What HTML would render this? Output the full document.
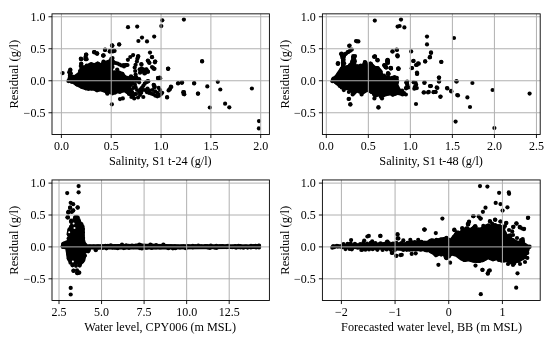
<!DOCTYPE html><html><head><meta charset="utf-8"><style>html,body{margin:0;padding:0;background:#fff;overflow:hidden}svg{display:block;will-change:transform;filter:blur(0.35px)}</style></head><body><svg width="550" height="343" viewBox="0 0 550 343"><rect width="550" height="343" fill="#fff"/><g fill="#000"><path d="M67.1 80.5 L67.7 78.0 L68.3 74.2 L69.6 70.3 L71.5 71.0 L72.8 75.5 L74.7 74.8 L77.9 72.3 L79.9 69.1 L80.5 66.5 L82.4 66.6 L85.0 65.0 L88.2 64.0 L91.3 62.4 L94.5 62.9 L97.6 61.3 L100.8 62.9 L103.4 59.8 L105.5 60.8 L108.1 59.8 L110.7 58.7 L112.3 57.6 L113.0 62.0 L113.0 70.5 L118.0 71.5 L122.0 72.0 L124.5 74.0 L126.0 76.5 L130.0 77.5 L131.0 82.0 L131.0 94.0 L129.2 95.5 L124.0 92.3 L120.3 93.6 L116.4 93.6 L112.6 95.5 L108.7 93.5 L106.2 95.0 L104.9 93.0 L101.0 91.4 L97.2 92.0 L93.3 90.8 L89.5 90.0 L85.6 90.3 L81.8 89.0 L76.7 86.6 L72.8 84.0 L70.3 83.2 L67.1 81.2Z"/><circle cx="128.0" cy="27.2" r="2.1"/><circle cx="137.2" cy="26.6" r="2.1"/><circle cx="142.0" cy="37.6" r="2.1"/><circle cx="138.4" cy="41.0" r="2.1"/><circle cx="147.0" cy="41.4" r="2.1"/><circle cx="154.2" cy="36.6" r="2.1"/><circle cx="119.2" cy="44.4" r="2.1"/><circle cx="112.0" cy="45.4" r="2.1"/><circle cx="110.0" cy="51.0" r="2.1"/><circle cx="114.2" cy="50.6" r="2.1"/><circle cx="105.0" cy="50.0" r="2.1"/><circle cx="94.0" cy="52.0" r="2.1"/><circle cx="97.0" cy="53.4" r="2.1"/><circle cx="103.6" cy="55.4" r="2.1"/><circle cx="86.0" cy="55.0" r="2.1"/><circle cx="85.6" cy="58.4" r="2.1"/><circle cx="81.0" cy="59.0" r="2.1"/><circle cx="150.0" cy="52.6" r="2.1"/><circle cx="152.0" cy="57.0" r="2.1"/><circle cx="155.2" cy="61.6" r="2.1"/><circle cx="138.0" cy="57.0" r="2.1"/><circle cx="162.3" cy="20.3" r="2.1"/><circle cx="161.3" cy="26.1" r="2.1"/><circle cx="183.9" cy="19.6" r="2.1"/><circle cx="202.1" cy="61.5" r="2.1"/><circle cx="168.2" cy="68.8" r="2.1"/><circle cx="168.2" cy="68.6" r="2.1"/><circle cx="158.1" cy="78.2" r="2.1"/><circle cx="160.2" cy="78.2" r="2.1"/><circle cx="178.0" cy="83.5" r="2.1"/><circle cx="181.8" cy="82.8" r="2.1"/><circle cx="194.1" cy="83.5" r="2.1"/><circle cx="207.3" cy="86.4" r="2.1"/><circle cx="217.8" cy="81.8" r="2.1"/><circle cx="220.3" cy="89.5" r="2.1"/><circle cx="251.9" cy="88.5" r="2.1"/><circle cx="171.3" cy="87.0" r="2.1"/><circle cx="169.6" cy="89.5" r="2.1"/><circle cx="183.2" cy="92.2" r="2.1"/><circle cx="184.3" cy="94.3" r="2.1"/><circle cx="197.9" cy="93.7" r="2.1"/><circle cx="167.1" cy="97.1" r="2.1"/><circle cx="209.8" cy="107.5" r="2.1"/><circle cx="225.1" cy="103.7" r="2.1"/><circle cx="229.3" cy="107.3" r="2.1"/><circle cx="259.0" cy="121.1" r="2.1"/><circle cx="258.9" cy="128.4" r="2.1"/><circle cx="119.2" cy="44.5" r="2.1"/><circle cx="112.3" cy="45.8" r="2.1"/><circle cx="114.5" cy="50.9" r="2.1"/><circle cx="110.0" cy="51.5" r="2.1"/><circle cx="105.1" cy="49.6" r="2.1"/><circle cx="94.4" cy="52.2" r="2.1"/><circle cx="97.2" cy="53.5" r="2.1"/><circle cx="103.3" cy="55.6" r="2.1"/><circle cx="86.3" cy="54.7" r="2.1"/><circle cx="85.6" cy="59.2" r="2.1"/><circle cx="81.2" cy="59.2" r="2.1"/><circle cx="81.2" cy="63.7" r="2.1"/><circle cx="70.3" cy="70.1" r="2.1"/><circle cx="62.6" cy="73.1" r="2.1"/><circle cx="126.3" cy="65.2" r="2.1"/><circle cx="124.0" cy="66.4" r="2.1"/><circle cx="141.5" cy="64.7" r="2.1"/><circle cx="139.7" cy="69.3" r="2.1"/><circle cx="141.5" cy="68.7" r="2.1"/><circle cx="142.7" cy="71.1" r="2.1"/><circle cx="140.9" cy="71.7" r="2.1"/><circle cx="144.4" cy="69.9" r="2.1"/><circle cx="146.2" cy="69.3" r="2.1"/><circle cx="147.9" cy="71.7" r="2.1"/><circle cx="144.4" cy="73.4" r="2.1"/><circle cx="149.1" cy="62.3" r="2.1"/><circle cx="147.9" cy="60.6" r="2.1"/><circle cx="154.9" cy="62.3" r="2.1"/><circle cx="152.0" cy="67.0" r="2.1"/><circle cx="153.7" cy="68.7" r="2.1"/><circle cx="159.0" cy="78.1" r="2.1"/><circle cx="129.8" cy="77.5" r="2.1"/><circle cx="132.2" cy="77.5" r="2.1"/><circle cx="134.5" cy="78.7" r="2.1"/><circle cx="136.8" cy="78.7" r="2.1"/><circle cx="139.2" cy="79.2" r="2.1"/><circle cx="124.0" cy="76.3" r="2.1"/><circle cx="126.3" cy="77.5" r="2.1"/><circle cx="131.0" cy="76.3" r="2.1"/><circle cx="152.0" cy="57.2" r="2.1"/><circle cx="147.9" cy="60.8" r="2.1"/><circle cx="149.4" cy="63.0" r="2.1"/><circle cx="155.2" cy="61.6" r="2.1"/><circle cx="153.0" cy="67.8" r="2.1"/><circle cx="154.5" cy="68.8" r="2.1"/><circle cx="146.5" cy="69.6" r="2.1"/><circle cx="147.9" cy="71.7" r="2.1"/><circle cx="145.0" cy="73.2" r="2.1"/><circle cx="168.0" cy="68.8" r="2.1"/><circle cx="202.1" cy="61.1" r="2.1"/><circle cx="158.1" cy="78.0" r="2.1"/><circle cx="159.6" cy="77.6" r="2.1"/><circle cx="146.5" cy="81.9" r="2.1"/><circle cx="147.9" cy="81.2" r="2.1"/><circle cx="153.7" cy="84.8" r="2.1"/><circle cx="154.5" cy="86.3" r="2.1"/><circle cx="178.2" cy="83.1" r="2.1"/><circle cx="182.1" cy="82.4" r="2.1"/><circle cx="194.2" cy="83.1" r="2.1"/><circle cx="170.9" cy="86.7" r="2.1"/><circle cx="169.7" cy="89.2" r="2.1"/><circle cx="168.6" cy="90.4" r="2.1"/><circle cx="184.0" cy="92.1" r="2.1"/><circle cx="183.6" cy="94.0" r="2.1"/><circle cx="198.1" cy="93.6" r="2.1"/><circle cx="167.1" cy="97.5" r="2.1"/><circle cx="131.4" cy="77.4" r="2.1"/><circle cx="134.2" cy="78.1" r="2.1"/><circle cx="136.3" cy="77.4" r="2.1"/><circle cx="132.8" cy="83.0" r="2.1"/><circle cx="134.9" cy="84.4" r="2.1"/><circle cx="133.5" cy="87.9" r="2.1"/><circle cx="132.1" cy="92.1" r="2.1"/><circle cx="134.9" cy="94.2" r="2.1"/><circle cx="131.4" cy="97.0" r="2.1"/><circle cx="134.2" cy="98.4" r="2.1"/><circle cx="137.0" cy="90.0" r="2.1"/><circle cx="135.6" cy="87.2" r="2.1"/><circle cx="130.7" cy="94.2" r="2.1"/><circle cx="131.0" cy="80.0" r="2.1"/><circle cx="131.0" cy="85.0" r="2.1"/><circle cx="131.0" cy="90.0" r="2.1"/><circle cx="133.0" cy="80.0" r="2.1"/><circle cx="136.0" cy="81.0" r="2.1"/><circle cx="136.0" cy="94.0" r="2.1"/><circle cx="133.0" cy="96.0" r="2.1"/><circle cx="139.1" cy="82.3" r="2.1"/><circle cx="139.1" cy="92.1" r="2.1"/><circle cx="140.5" cy="89.3" r="2.1"/><circle cx="141.9" cy="87.9" r="2.1"/><circle cx="143.3" cy="85.8" r="2.1"/><circle cx="144.7" cy="83.7" r="2.1"/><circle cx="146.5" cy="82.0" r="2.1"/><circle cx="148.2" cy="81.3" r="2.1"/><circle cx="142.6" cy="90.0" r="2.1"/><circle cx="141.2" cy="92.8" r="2.1"/><circle cx="143.3" cy="97.0" r="2.1"/><circle cx="140.0" cy="95.0" r="2.1"/><circle cx="138.0" cy="97.5" r="2.1"/><circle cx="153.8" cy="85.1" r="2.1"/><circle cx="154.5" cy="87.2" r="2.1"/><circle cx="158.7" cy="87.9" r="2.1"/><circle cx="160.1" cy="90.0" r="2.1"/><circle cx="162.2" cy="92.8" r="2.1"/><circle cx="147.5" cy="88.6" r="2.1"/><circle cx="146.8" cy="92.1" r="2.1"/><circle cx="148.9" cy="92.8" r="2.1"/><circle cx="151.0" cy="93.5" r="2.1"/><circle cx="153.1" cy="94.2" r="2.1"/><circle cx="155.2" cy="95.6" r="2.1"/><circle cx="157.3" cy="96.3" r="2.1"/><circle cx="159.4" cy="95.6" r="2.1"/><circle cx="160.8" cy="94.2" r="2.1"/><circle cx="152.4" cy="90.0" r="2.1"/><circle cx="155.2" cy="91.4" r="2.1"/><circle cx="157.3" cy="92.8" r="2.1"/><circle cx="158.0" cy="78.1" r="2.1"/><circle cx="145.0" cy="90.0" r="2.1"/><circle cx="149.5" cy="90.5" r="2.1"/><circle cx="111.9" cy="104.3" r="2.1"/><circle cx="120.0" cy="99.1" r="2.1"/><circle cx="122.8" cy="98.4" r="2.1"/><circle cx="116.0" cy="72.7" r="2.1"/><circle cx="119.2" cy="72.7" r="2.1"/><circle cx="121.2" cy="75.2" r="2.1"/><circle cx="122.4" cy="73.9" r="2.1"/><circle cx="113.5" cy="62.1" r="2.1"/><circle cx="115.5" cy="63.0" r="2.1"/><circle cx="117.5" cy="63.5" r="2.1"/><circle cx="119.5" cy="64.5" r="2.1"/><circle cx="121.5" cy="65.5" r="2.1"/><circle cx="123.5" cy="65.0" r="2.1"/><circle cx="125.5" cy="65.0" r="2.1"/><circle cx="127.5" cy="65.0" r="2.1"/><circle cx="112.5" cy="58.0" r="2.1"/><circle cx="112.5" cy="61.0" r="2.1"/><circle cx="112.5" cy="64.0" r="2.1"/><circle cx="112.5" cy="67.0" r="2.1"/><circle cx="80.8" cy="58.7" r="2.1"/><circle cx="86.1" cy="54.5" r="2.1"/><circle cx="85.5" cy="57.1" r="2.1"/><circle cx="86.6" cy="59.2" r="2.1"/><circle cx="94.5" cy="52.4" r="2.1"/><circle cx="97.1" cy="53.7" r="2.1"/><circle cx="103.1" cy="55.6" r="2.1"/><circle cx="105.0" cy="49.8" r="2.1"/><circle cx="109.7" cy="51.4" r="2.1"/><circle cx="112.3" cy="45.6" r="2.1"/><circle cx="112.8" cy="51.4" r="2.1"/><circle cx="81.3" cy="64.0" r="2.1"/><circle cx="80.8" cy="66.1" r="2.1"/><circle cx="70.3" cy="69.7" r="2.1"/><circle cx="114.4" cy="72.4" r="2.1"/><circle cx="118.1" cy="72.4" r="2.1"/><circle cx="120.9" cy="73.3" r="2.1"/><circle cx="122.3" cy="74.7" r="2.1"/><circle cx="117.2" cy="69.6" r="2.1"/><circle cx="127.9" cy="59.8" r="2.1"/><circle cx="130.3" cy="57.0" r="2.1"/><circle cx="133.1" cy="55.1" r="2.1"/><circle cx="138.2" cy="56.5" r="2.1"/><circle cx="138.2" cy="56.1" r="2.1"/><circle cx="137.4" cy="58.7" r="2.1"/><circle cx="136.9" cy="61.4" r="2.1"/><circle cx="135.6" cy="64.8" r="2.1"/><circle cx="134.7" cy="67.5" r="2.1"/><circle cx="135.2" cy="71.0" r="2.1"/><circle cx="135.6" cy="74.5" r="2.1"/><circle cx="141.3" cy="64.0" r="2.1"/><circle cx="140.8" cy="70.1" r="2.1"/><circle cx="142.6" cy="69.2" r="2.1"/><circle cx="144.3" cy="71.8" r="2.1"/><circle cx="140.0" cy="72.7" r="2.1"/><circle cx="69.3" cy="80.1" r="2.1"/><circle cx="70.0" cy="75.5" r="2.1"/><circle cx="70.8" cy="73.3" r="2.1"/><circle cx="69.2" cy="72.2" r="2.1"/><circle cx="69.9" cy="73.9" r="2.1"/><circle cx="73.5" cy="76.9" r="2.1"/><circle cx="76.4" cy="76.5" r="2.1"/><circle cx="80.0" cy="71.1" r="2.1"/><circle cx="82.9" cy="67.7" r="2.1"/><circle cx="81.4" cy="68.6" r="2.1"/><circle cx="83.3" cy="67.4" r="2.1"/><circle cx="86.7" cy="65.7" r="2.1"/><circle cx="89.4" cy="65.1" r="2.1"/><circle cx="91.1" cy="64.2" r="2.1"/><circle cx="96.7" cy="64.5" r="2.1"/><circle cx="98.0" cy="63.9" r="2.1"/><circle cx="103.5" cy="63.0" r="2.1"/><circle cx="103.5" cy="61.6" r="2.1"/><circle cx="108.5" cy="62.5" r="2.1"/><circle cx="110.7" cy="61.1" r="2.1"/><circle cx="111.9" cy="59.6" r="2.1"/><circle cx="111.3" cy="58.8" r="2.1"/><circle cx="111.3" cy="64.6" r="2.1"/><circle cx="111.3" cy="69.1" r="2.1"/><circle cx="116.4" cy="73.7" r="2.1"/><circle cx="117.8" cy="72.9" r="2.1"/><circle cx="122.7" cy="74.9" r="2.1"/><circle cx="124.2" cy="76.9" r="2.1"/><circle cx="125.7" cy="78.6" r="2.1"/><circle cx="129.1" cy="80.6" r="2.1"/><circle cx="129.4" cy="82.2" r="2.1"/><circle cx="128.7" cy="87.3" r="2.1"/><circle cx="129.5" cy="88.3" r="2.1"/><circle cx="129.8" cy="91.2" r="2.1"/><circle cx="129.0" cy="93.9" r="2.1"/><circle cx="129.0" cy="93.2" r="2.1"/><circle cx="127.4" cy="91.7" r="2.1"/><circle cx="122.9" cy="90.4" r="2.1"/><circle cx="119.9" cy="91.8" r="2.1"/><circle cx="115.1" cy="92.6" r="2.1"/><circle cx="110.7" cy="91.8" r="2.1"/><circle cx="106.8" cy="91.7" r="2.1"/><circle cx="107.4" cy="93.7" r="2.1"/><circle cx="103.0" cy="89.9" r="2.1"/><circle cx="100.3" cy="88.8" r="2.1"/><circle cx="97.0" cy="90.3" r="2.1"/><circle cx="91.3" cy="88.7" r="2.1"/><circle cx="88.5" cy="88.9" r="2.1"/><circle cx="86.0" cy="88.3" r="2.1"/><circle cx="81.7" cy="86.7" r="2.1"/><circle cx="76.6" cy="84.3" r="2.1"/><circle cx="71.5" cy="81.6" r="2.1"/><circle cx="70.1" cy="80.2" r="2.1"/><circle cx="68.4" cy="81.1" r="2.1"/></g><path d="M61.40 13.85V134.50M111.22 13.85V134.50M161.05 13.85V134.50M210.88 13.85V134.50M260.70 13.85V134.50M52.00 16.75H269.40M52.00 48.75H269.40M52.00 80.75H269.40M52.00 112.75H269.40" stroke="#b0b0b0" stroke-width="1.0" fill="none"/><rect x="52.00" y="13.85" width="217.40" height="120.65" fill="none" stroke="#000" stroke-width="0.9"/><path d="M61.40 134.50v3.5M111.22 134.50v3.5M161.05 134.50v3.5M210.88 134.50v3.5M260.70 134.50v3.5M52.00 16.75h-3.5M52.00 48.75h-3.5M52.00 80.75h-3.5M52.00 112.75h-3.5" stroke="#000" stroke-width="0.9" fill="none"/><g font-family='"Liberation Serif", serif' font-size="12" fill="#000"><text x="61.40" y="150.10" text-anchor="middle">0.0</text><text x="111.22" y="150.10" text-anchor="middle">0.5</text><text x="161.05" y="150.10" text-anchor="middle">1.0</text><text x="210.88" y="150.10" text-anchor="middle">1.5</text><text x="260.70" y="150.10" text-anchor="middle">2.0</text><text x="45.40" y="21.00" text-anchor="end">1.0</text><text x="45.40" y="53.00" text-anchor="end">0.5</text><text x="45.40" y="85.00" text-anchor="end">0.0</text><text x="45.40" y="117.00" text-anchor="end">−0.5</text></g><text x="160.30" y="165.00" text-anchor="middle" textLength="102.60" lengthAdjust="spacingAndGlyphs" font-family='"Liberation Serif", serif' font-size="12" fill="#000">Salinity, S1 t-24 (g/l)</text><text transform="translate(18.10 74.17) rotate(-90)" x="0" y="0" text-anchor="middle" textLength="68.90" lengthAdjust="spacingAndGlyphs" font-family='"Liberation Serif", serif' font-size="12" fill="#000">Residual (g/l)</text><g fill="#000"><path d="M331.1 80.3 L331.3 78.5 L334.0 76.7 L336.3 73.2 L338.7 69.7 L341.0 66.2 L341.0 57.0 L340.5 54.0 L342.0 52.5 L344.5 53.0 L345.3 58.0 L345.3 65.5 L348.2 64.7 L350.6 61.4 L351.4 58.2 L353.0 56.1 L355.5 56.5 L356.5 60.0 L356.3 64.3 L359.6 64.7 L362.0 63.9 L363.7 60.6 L366.1 60.6 L367.3 63.0 L367.8 65.0 L370.2 61.5 L372.0 62.0 L373.3 64.1 L375.6 66.0 L378.6 66.4 L380.9 68.7 L382.4 70.9 L383.2 74.0 L386.0 75.5 L390.0 76.5 L395.0 77.5 L398.0 79.0 L399.2 81.3 L398.5 84.8 L400.3 88.3 L402.7 91.8 L406.2 95.5 L402.2 96.0 L397.8 95.0 L393.5 96.0 L389.1 95.5 L385.5 96.5 L381.8 98.5 L378.2 96.5 L374.5 98.5 L371.6 94.0 L367.3 92.0 L362.2 94.9 L357.1 92.7 L353.5 94.9 L348.4 90.5 L342.5 89.8 L336.7 85.5 L330.9 81.1Z"/><circle cx="374.8" cy="20.6" r="2.1"/><circle cx="401.0" cy="19.6" r="2.1"/><circle cx="397.6" cy="26.6" r="2.1"/><circle cx="399.6" cy="26.0" r="2.1"/><circle cx="404.4" cy="27.4" r="2.1"/><circle cx="427.0" cy="36.6" r="2.1"/><circle cx="427.0" cy="44.4" r="2.1"/><circle cx="356.0" cy="41.0" r="2.1"/><circle cx="358.4" cy="41.4" r="2.1"/><circle cx="349.6" cy="45.6" r="2.1"/><circle cx="392.4" cy="51.4" r="2.1"/><circle cx="397.0" cy="50.0" r="2.1"/><circle cx="397.6" cy="55.6" r="2.1"/><circle cx="411.2" cy="51.4" r="2.1"/><circle cx="431.0" cy="52.4" r="2.1"/><circle cx="430.0" cy="57.0" r="2.1"/><circle cx="425.2" cy="61.4" r="2.1"/><circle cx="413.2" cy="61.0" r="2.1"/><circle cx="418.0" cy="63.4" r="2.1"/><circle cx="416.0" cy="65.0" r="2.1"/><circle cx="412.0" cy="68.0" r="2.1"/><circle cx="417.0" cy="72.6" r="2.1"/><circle cx="398.4" cy="68.4" r="2.1"/><circle cx="390.6" cy="68.0" r="2.1"/><circle cx="387.6" cy="60.4" r="2.1"/><circle cx="388.0" cy="63.0" r="2.1"/><circle cx="384.4" cy="65.0" r="2.1"/><circle cx="385.6" cy="67.0" r="2.1"/><circle cx="374.8" cy="56.6" r="2.1"/><circle cx="377.6" cy="60.4" r="2.1"/><circle cx="338.0" cy="63.0" r="2.1"/><circle cx="341.0" cy="54.0" r="2.1"/><circle cx="341.5" cy="53.5" r="2.1"/><circle cx="343.5" cy="55.4" r="2.1"/><circle cx="345.4" cy="54.1" r="2.1"/><circle cx="347.9" cy="52.2" r="2.1"/><circle cx="350.5" cy="50.3" r="2.1"/><circle cx="349.2" cy="45.8" r="2.1"/><circle cx="337.7" cy="63.7" r="2.1"/><circle cx="356.9" cy="41.3" r="2.1"/><circle cx="374.9" cy="56.4" r="2.1"/><circle cx="377.4" cy="59.9" r="2.1"/><circle cx="387.7" cy="59.9" r="2.1"/><circle cx="387.1" cy="61.8" r="2.1"/><circle cx="385.1" cy="65.6" r="2.1"/><circle cx="386.4" cy="67.6" r="2.1"/><circle cx="390.9" cy="68.2" r="2.1"/><circle cx="388.3" cy="74.0" r="2.1"/><circle cx="392.6" cy="51.5" r="2.1"/><circle cx="396.7" cy="49.6" r="2.1"/><circle cx="397.3" cy="55.4" r="2.1"/><circle cx="398.6" cy="68.8" r="2.1"/><circle cx="349.0" cy="98.8" r="2.1"/><circle cx="350.3" cy="104.4" r="2.1"/><circle cx="378.5" cy="107.4" r="2.1"/><circle cx="397.6" cy="56.4" r="2.1"/><circle cx="388.0" cy="61.1" r="2.1"/><circle cx="413.6" cy="60.9" r="2.1"/><circle cx="416.8" cy="65.0" r="2.1"/><circle cx="418.8" cy="63.7" r="2.1"/><circle cx="425.2" cy="61.4" r="2.1"/><circle cx="429.7" cy="57.5" r="2.1"/><circle cx="441.2" cy="61.8" r="2.1"/><circle cx="390.8" cy="68.4" r="2.1"/><circle cx="398.3" cy="68.8" r="2.1"/><circle cx="411.7" cy="68.2" r="2.1"/><circle cx="417.2" cy="73.7" r="2.1"/><circle cx="388.6" cy="73.9" r="2.1"/><circle cx="439.0" cy="77.5" r="2.1"/><circle cx="439.0" cy="81.4" r="2.1"/><circle cx="456.6" cy="81.4" r="2.1"/><circle cx="424.5" cy="82.3" r="2.1"/><circle cx="430.3" cy="86.1" r="2.1"/><circle cx="436.7" cy="87.4" r="2.1"/><circle cx="447.0" cy="88.1" r="2.1"/><circle cx="451.1" cy="90.9" r="2.1"/><circle cx="423.6" cy="92.5" r="2.1"/><circle cx="428.8" cy="91.9" r="2.1"/><circle cx="433.5" cy="92.2" r="2.1"/><circle cx="435.4" cy="91.9" r="2.1"/><circle cx="440.3" cy="96.8" r="2.1"/><circle cx="457.2" cy="95.1" r="2.1"/><circle cx="413.6" cy="82.3" r="2.1"/><circle cx="415.6" cy="82.9" r="2.1"/><circle cx="414.9" cy="86.8" r="2.1"/><circle cx="416.8" cy="88.1" r="2.1"/><circle cx="414.3" cy="88.7" r="2.1"/><circle cx="416.2" cy="84.8" r="2.1"/><circle cx="407.2" cy="81.6" r="2.1"/><circle cx="407.2" cy="84.2" r="2.1"/><circle cx="408.5" cy="87.4" r="2.1"/><circle cx="405.9" cy="88.1" r="2.1"/><circle cx="402.1" cy="90.6" r="2.1"/><circle cx="404.0" cy="93.2" r="2.1"/><circle cx="405.9" cy="94.5" r="2.1"/><circle cx="454.0" cy="38.0" r="2.1"/><circle cx="431.0" cy="53.0" r="2.1"/><circle cx="430.0" cy="57.0" r="2.1"/><circle cx="441.4" cy="62.0" r="2.1"/><circle cx="439.0" cy="77.6" r="2.1"/><circle cx="439.0" cy="81.4" r="2.1"/><circle cx="456.4" cy="81.4" r="2.1"/><circle cx="472.4" cy="83.0" r="2.1"/><circle cx="431.0" cy="86.0" r="2.1"/><circle cx="437.4" cy="88.0" r="2.1"/><circle cx="434.0" cy="92.0" r="2.1"/><circle cx="435.6" cy="92.0" r="2.1"/><circle cx="447.4" cy="88.4" r="2.1"/><circle cx="451.4" cy="91.4" r="2.1"/><circle cx="440.6" cy="96.6" r="2.1"/><circle cx="458.0" cy="95.4" r="2.1"/><circle cx="467.4" cy="97.4" r="2.1"/><circle cx="470.0" cy="107.0" r="2.1"/><circle cx="492.6" cy="90.0" r="2.1"/><circle cx="529.6" cy="93.6" r="2.1"/><circle cx="455.6" cy="121.6" r="2.1"/><circle cx="494.4" cy="128.0" r="2.1"/><circle cx="348.6" cy="99.0" r="2.1"/><circle cx="350.4" cy="104.4" r="2.1"/><circle cx="378.4" cy="107.4" r="2.1"/><circle cx="416.0" cy="104.0" r="2.1"/><circle cx="424.4" cy="83.0" r="2.1"/><circle cx="430.0" cy="86.0" r="2.1"/><circle cx="424.0" cy="92.4" r="2.1"/><circle cx="428.0" cy="92.4" r="2.1"/><circle cx="417.0" cy="74.0" r="2.1"/><circle cx="353.2" cy="56.2" r="2.1"/><circle cx="355.0" cy="56.0" r="2.1"/><circle cx="374.0" cy="56.8" r="2.1"/><circle cx="338.1" cy="63.8" r="2.1"/><circle cx="374.8" cy="56.5" r="2.1"/><circle cx="377.5" cy="60.0" r="2.1"/><circle cx="387.3" cy="60.0" r="2.1"/><circle cx="387.7" cy="61.8" r="2.1"/><circle cx="384.3" cy="65.3" r="2.1"/><circle cx="385.8" cy="66.8" r="2.1"/><circle cx="390.7" cy="67.9" r="2.1"/><circle cx="388.1" cy="73.6" r="2.1"/><circle cx="387.5" cy="61.0" r="2.1"/><circle cx="387.5" cy="62.7" r="2.1"/><circle cx="384.6" cy="65.6" r="2.1"/><circle cx="385.7" cy="67.3" r="2.1"/><circle cx="391.0" cy="68.5" r="2.1"/><circle cx="398.3" cy="68.5" r="2.1"/><circle cx="388.0" cy="73.2" r="2.1"/><circle cx="384.0" cy="75.5" r="2.1"/><circle cx="388.7" cy="77.8" r="2.1"/><circle cx="392.2" cy="77.8" r="2.1"/><circle cx="394.5" cy="77.2" r="2.1"/><circle cx="396.8" cy="77.8" r="2.1"/><circle cx="406.2" cy="82.5" r="2.1"/><circle cx="407.3" cy="86.0" r="2.1"/><circle cx="406.2" cy="88.3" r="2.1"/><circle cx="352.7" cy="94.5" r="2.1"/><circle cx="361.6" cy="94.5" r="2.1"/><circle cx="374.4" cy="98.4" r="2.1"/><circle cx="382.0" cy="98.4" r="2.1"/><circle cx="343.8" cy="90.1" r="2.1"/><circle cx="348.9" cy="92.0" r="2.1"/><circle cx="342.2" cy="56.7" r="2.1"/><circle cx="344.0" cy="55.0" r="2.1"/><circle cx="346.0" cy="53.5" r="2.1"/><circle cx="348.0" cy="52.0" r="2.1"/><circle cx="350.0" cy="50.8" r="2.1"/><circle cx="351.8" cy="49.6" r="2.1"/><circle cx="333.3" cy="79.9" r="2.1"/><circle cx="333.5" cy="78.6" r="2.1"/><circle cx="335.4" cy="77.6" r="2.1"/><circle cx="338.8" cy="73.8" r="2.1"/><circle cx="341.7" cy="68.9" r="2.1"/><circle cx="343.2" cy="64.8" r="2.1"/><circle cx="342.8" cy="62.8" r="2.1"/><circle cx="343.5" cy="59.7" r="2.1"/><circle cx="343.4" cy="56.5" r="2.1"/><circle cx="342.1" cy="55.5" r="2.1"/><circle cx="342.3" cy="54.3" r="2.1"/><circle cx="343.9" cy="56.5" r="2.1"/><circle cx="342.7" cy="58.2" r="2.1"/><circle cx="344.1" cy="63.3" r="2.1"/><circle cx="348.3" cy="67.4" r="2.1"/><circle cx="349.9" cy="65.4" r="2.1"/><circle cx="352.2" cy="61.4" r="2.1"/><circle cx="353.3" cy="58.0" r="2.1"/><circle cx="354.2" cy="57.5" r="2.1"/><circle cx="353.3" cy="57.6" r="2.1"/><circle cx="354.7" cy="61.3" r="2.1"/><circle cx="357.6" cy="66.3" r="2.1"/><circle cx="360.7" cy="65.5" r="2.1"/><circle cx="365.3" cy="63.2" r="2.1"/><circle cx="365.6" cy="62.8" r="2.1"/><circle cx="364.9" cy="62.0" r="2.1"/><circle cx="365.5" cy="64.6" r="2.1"/><circle cx="369.2" cy="65.5" r="2.1"/><circle cx="370.2" cy="63.5" r="2.1"/><circle cx="371.2" cy="64.4" r="2.1"/><circle cx="371.8" cy="66.0" r="2.1"/><circle cx="376.4" cy="68.1" r="2.1"/><circle cx="377.7" cy="68.1" r="2.1"/><circle cx="379.4" cy="70.7" r="2.1"/><circle cx="380.5" cy="71.6" r="2.1"/><circle cx="382.6" cy="76.2" r="2.1"/><circle cx="385.7" cy="77.0" r="2.1"/><circle cx="391.0" cy="78.9" r="2.1"/><circle cx="394.3" cy="79.2" r="2.1"/><circle cx="396.8" cy="80.1" r="2.1"/><circle cx="396.4" cy="82.1" r="2.1"/><circle cx="396.9" cy="87.3" r="2.1"/><circle cx="398.5" cy="90.2" r="2.1"/><circle cx="402.7" cy="93.8" r="2.1"/><circle cx="403.5" cy="93.3" r="2.1"/><circle cx="402.5" cy="94.5" r="2.1"/><circle cx="394.8" cy="94.0" r="2.1"/><circle cx="392.8" cy="94.8" r="2.1"/><circle cx="388.4" cy="93.5" r="2.1"/><circle cx="381.3" cy="95.7" r="2.1"/><circle cx="380.9" cy="96.7" r="2.1"/><circle cx="376.1" cy="94.9" r="2.1"/><circle cx="374.4" cy="94.4" r="2.1"/><circle cx="371.6" cy="91.9" r="2.1"/><circle cx="364.3" cy="91.3" r="2.1"/><circle cx="362.2" cy="92.0" r="2.1"/><circle cx="353.8" cy="93.1" r="2.1"/><circle cx="354.5" cy="92.5" r="2.1"/><circle cx="352.1" cy="90.2" r="2.1"/><circle cx="346.2" cy="88.0" r="2.1"/><circle cx="341.7" cy="87.4" r="2.1"/><circle cx="339.8" cy="85.9" r="2.1"/><circle cx="336.5" cy="82.5" r="2.1"/><circle cx="335.0" cy="81.1" r="2.1"/><circle cx="332.4" cy="81.2" r="2.1"/></g><path d="M326.30 13.85V134.50M368.33 13.85V134.50M410.36 13.85V134.50M452.39 13.85V134.50M494.42 13.85V134.50M536.45 13.85V134.50M322.40 16.75H540.20M322.40 48.75H540.20M322.40 80.75H540.20M322.40 112.75H540.20" stroke="#b0b0b0" stroke-width="1.0" fill="none"/><rect x="322.40" y="13.85" width="217.80" height="120.65" fill="none" stroke="#000" stroke-width="0.9"/><path d="M326.30 134.50v3.5M368.33 134.50v3.5M410.36 134.50v3.5M452.39 134.50v3.5M494.42 134.50v3.5M536.45 134.50v3.5M322.40 16.75h-3.5M322.40 48.75h-3.5M322.40 80.75h-3.5M322.40 112.75h-3.5" stroke="#000" stroke-width="0.9" fill="none"/><g font-family='"Liberation Serif", serif' font-size="12" fill="#000"><text x="326.30" y="150.10" text-anchor="middle">0.0</text><text x="368.33" y="150.10" text-anchor="middle">0.5</text><text x="410.36" y="150.10" text-anchor="middle">1.0</text><text x="452.39" y="150.10" text-anchor="middle">1.5</text><text x="494.42" y="150.10" text-anchor="middle">2.0</text><text x="536.45" y="150.10" text-anchor="middle">2.5</text><text x="315.80" y="21.00" text-anchor="end">1.0</text><text x="315.80" y="53.00" text-anchor="end">0.5</text><text x="315.80" y="85.00" text-anchor="end">0.0</text><text x="315.80" y="117.00" text-anchor="end">−0.5</text></g><text x="431.10" y="165.00" text-anchor="middle" textLength="103.60" lengthAdjust="spacingAndGlyphs" font-family='"Liberation Serif", serif' font-size="12" fill="#000">Salinity, S1 t-48 (g/l)</text><text transform="translate(288.50 74.17) rotate(-90)" x="0" y="0" text-anchor="middle" textLength="68.90" lengthAdjust="spacingAndGlyphs" font-family='"Liberation Serif", serif' font-size="12" fill="#000">Residual (g/l)</text><g fill="#000"><path d="M74.5 215.6 L77.0 214.8 L78.9 216.5 L79.7 219.1 L81.5 221.7 L83.2 224.4 L84.6 227.9 L85.0 232.2 L84.6 237.7 L85.7 242.3 L87.5 244.2 L95.0 244.2 L122.0 243.9 L150.0 243.8 L180.0 244.2 L210.0 244.2 L240.0 244.3 L258.0 244.4 L260.5 245.0 L261.2 246.5 L260.5 248.2 L258.0 248.9 L230.0 249.0 L200.0 249.3 L170.0 249.5 L140.0 249.6 L110.0 249.6 L91.0 249.6 L89.8 251.7 L87.5 251.7 L85.7 252.8 L86.3 256.3 L85.2 261.0 L82.8 263.3 L80.5 265.7 L77.0 264.5 L73.5 265.1 L70.0 263.9 L67.7 261.0 L66.5 257.5 L65.9 252.8 L65.3 249.3 L61.2 248.5 L60.7 246.5 L61.2 244.5 L62.4 242.0 L67.1 240.0 L67.7 236.5 L66.5 234.2 L67.1 230.7 L68.2 228.3 L70.0 224.8 L72.3 220.2 L73.5 216.7Z"/><circle cx="78.6" cy="186.1" r="2.1"/><circle cx="78.6" cy="192.3" r="2.1"/><circle cx="67.2" cy="193.1" r="2.1"/><circle cx="70.7" cy="202.8" r="2.1"/><circle cx="73.2" cy="204.2" r="2.1"/><circle cx="70.1" cy="207.7" r="2.1"/><circle cx="77.7" cy="207.7" r="2.1"/><circle cx="73.2" cy="210.6" r="2.1"/><circle cx="68.6" cy="211.7" r="2.1"/><circle cx="67.8" cy="217.4" r="2.1"/><circle cx="68.2" cy="212.6" r="2.1"/><circle cx="71.7" cy="212.0" r="2.1"/><circle cx="67.7" cy="217.2" r="2.1"/><circle cx="71.2" cy="220.7" r="2.1"/><circle cx="73.5" cy="225.4" r="2.1"/><circle cx="70.7" cy="287.9" r="2.1"/><circle cx="70.7" cy="294.5" r="2.1"/><circle cx="73.5" cy="270.9" r="2.1"/><circle cx="77.0" cy="273.1" r="2.1"/><circle cx="78.8" cy="272.6" r="2.1"/><circle cx="73.5" cy="270.6" r="2.1"/><circle cx="77.0" cy="270.3" r="2.1"/><circle cx="77.6" cy="273.2" r="2.1"/><circle cx="79.3" cy="272.7" r="2.1"/><circle cx="70.1" cy="207.7" r="2.1"/><circle cx="77.6" cy="207.3" r="2.1"/><circle cx="73.2" cy="210.4" r="2.1"/><circle cx="68.4" cy="212.1" r="2.1"/><circle cx="67.5" cy="217.4" r="2.1"/><circle cx="71.0" cy="221.7" r="2.1"/><circle cx="88.2" cy="251.3" r="2.1"/><circle cx="95.8" cy="250.2" r="2.1"/><circle cx="122.0" cy="244.5" r="2.1"/><circle cx="139.4" cy="244.5" r="2.1"/><circle cx="150.4" cy="244.7" r="2.1"/><circle cx="163.4" cy="244.5" r="2.1"/><circle cx="72.5" cy="265.3" r="2.1"/><circle cx="79.7" cy="265.6" r="2.1"/><circle cx="76.0" cy="265.8" r="2.1"/><circle cx="75.7" cy="217.5" r="2.1"/><circle cx="76.4" cy="217.6" r="2.1"/><circle cx="77.6" cy="217.3" r="2.1"/><circle cx="78.7" cy="220.2" r="2.1"/><circle cx="81.4" cy="224.0" r="2.1"/><circle cx="82.5" cy="226.4" r="2.1"/><circle cx="82.9" cy="229.1" r="2.1"/><circle cx="82.7" cy="235.7" r="2.1"/><circle cx="83.1" cy="238.1" r="2.1"/><circle cx="84.1" cy="244.2" r="2.1"/><circle cx="89.9" cy="246.6" r="2.1"/><circle cx="93.7" cy="246.5" r="2.1"/><circle cx="97.3" cy="246.5" r="2.1"/><circle cx="98.6" cy="246.6" r="2.1"/><circle cx="102.2" cy="246.4" r="2.1"/><circle cx="105.4" cy="245.9" r="2.1"/><circle cx="107.9" cy="245.8" r="2.1"/><circle cx="110.8" cy="245.3" r="2.1"/><circle cx="115.0" cy="246.4" r="2.1"/><circle cx="118.4" cy="246.1" r="2.1"/><circle cx="120.4" cy="246.2" r="2.1"/><circle cx="122.3" cy="246.1" r="2.1"/><circle cx="126.2" cy="245.3" r="2.1"/><circle cx="128.7" cy="245.8" r="2.1"/><circle cx="132.0" cy="245.7" r="2.1"/><circle cx="136.0" cy="245.6" r="2.1"/><circle cx="137.9" cy="245.7" r="2.1"/><circle cx="141.3" cy="245.3" r="2.1"/><circle cx="144.3" cy="245.5" r="2.1"/><circle cx="147.1" cy="246.0" r="2.1"/><circle cx="152.3" cy="245.6" r="2.1"/><circle cx="154.7" cy="246.5" r="2.1"/><circle cx="156.1" cy="245.2" r="2.1"/><circle cx="160.9" cy="246.4" r="2.1"/><circle cx="163.5" cy="245.3" r="2.1"/><circle cx="166.0" cy="246.5" r="2.1"/><circle cx="170.1" cy="246.5" r="2.1"/><circle cx="171.5" cy="246.6" r="2.1"/><circle cx="174.9" cy="246.4" r="2.1"/><circle cx="177.3" cy="246.8" r="2.1"/><circle cx="181.4" cy="246.5" r="2.1"/><circle cx="183.5" cy="246.3" r="2.1"/><circle cx="187.4" cy="246.2" r="2.1"/><circle cx="189.9" cy="246.5" r="2.1"/><circle cx="192.8" cy="245.8" r="2.1"/><circle cx="195.4" cy="246.4" r="2.1"/><circle cx="198.3" cy="245.7" r="2.1"/><circle cx="201.2" cy="246.3" r="2.1"/><circle cx="205.3" cy="246.2" r="2.1"/><circle cx="207.1" cy="246.0" r="2.1"/><circle cx="210.8" cy="245.5" r="2.1"/><circle cx="213.0" cy="246.9" r="2.1"/><circle cx="216.3" cy="245.8" r="2.1"/><circle cx="219.6" cy="246.3" r="2.1"/><circle cx="222.2" cy="246.1" r="2.1"/><circle cx="225.9" cy="246.7" r="2.1"/><circle cx="228.0" cy="245.9" r="2.1"/><circle cx="232.2" cy="246.9" r="2.1"/><circle cx="235.2" cy="246.1" r="2.1"/><circle cx="238.6" cy="245.9" r="2.1"/><circle cx="240.1" cy="246.2" r="2.1"/><circle cx="245.2" cy="246.6" r="2.1"/><circle cx="246.6" cy="246.5" r="2.1"/><circle cx="251.0" cy="245.9" r="2.1"/><circle cx="253.4" cy="246.0" r="2.1"/><circle cx="255.6" cy="245.9" r="2.1"/><circle cx="258.0" cy="246.1" r="2.1"/><circle cx="258.9" cy="245.8" r="2.1"/><circle cx="259.0" cy="245.7" r="2.1"/><circle cx="259.0" cy="247.5" r="2.1"/><circle cx="256.1" cy="247.5" r="2.1"/><circle cx="253.7" cy="246.9" r="2.1"/><circle cx="250.9" cy="247.4" r="2.1"/><circle cx="247.6" cy="247.6" r="2.1"/><circle cx="243.4" cy="247.7" r="2.1"/><circle cx="240.4" cy="247.5" r="2.1"/><circle cx="238.6" cy="247.2" r="2.1"/><circle cx="236.1" cy="247.7" r="2.1"/><circle cx="232.2" cy="247.2" r="2.1"/><circle cx="227.9" cy="246.3" r="2.1"/><circle cx="226.9" cy="247.1" r="2.1"/><circle cx="223.7" cy="246.7" r="2.1"/><circle cx="220.2" cy="246.6" r="2.1"/><circle cx="216.7" cy="247.8" r="2.1"/><circle cx="215.0" cy="247.7" r="2.1"/><circle cx="209.9" cy="247.9" r="2.1"/><circle cx="207.8" cy="247.5" r="2.1"/><circle cx="205.1" cy="246.9" r="2.1"/><circle cx="202.5" cy="247.0" r="2.1"/><circle cx="198.4" cy="246.7" r="2.1"/><circle cx="195.7" cy="246.8" r="2.1"/><circle cx="192.9" cy="247.3" r="2.1"/><circle cx="189.5" cy="246.9" r="2.1"/><circle cx="185.8" cy="248.1" r="2.1"/><circle cx="184.7" cy="247.4" r="2.1"/><circle cx="180.0" cy="247.5" r="2.1"/><circle cx="178.3" cy="246.8" r="2.1"/><circle cx="175.3" cy="248.2" r="2.1"/><circle cx="172.9" cy="248.3" r="2.1"/><circle cx="168.3" cy="248.2" r="2.1"/><circle cx="165.3" cy="247.0" r="2.1"/><circle cx="161.6" cy="247.1" r="2.1"/><circle cx="160.0" cy="247.4" r="2.1"/><circle cx="156.0" cy="247.3" r="2.1"/><circle cx="154.3" cy="247.2" r="2.1"/><circle cx="151.7" cy="248.0" r="2.1"/><circle cx="146.6" cy="247.7" r="2.1"/><circle cx="145.3" cy="247.2" r="2.1"/><circle cx="141.9" cy="248.5" r="2.1"/><circle cx="139.9" cy="248.1" r="2.1"/><circle cx="136.2" cy="247.0" r="2.1"/><circle cx="133.4" cy="247.1" r="2.1"/><circle cx="129.0" cy="247.8" r="2.1"/><circle cx="125.6" cy="247.3" r="2.1"/><circle cx="123.8" cy="248.1" r="2.1"/><circle cx="120.9" cy="247.1" r="2.1"/><circle cx="117.7" cy="248.2" r="2.1"/><circle cx="115.1" cy="247.7" r="2.1"/><circle cx="112.5" cy="247.6" r="2.1"/><circle cx="109.9" cy="247.2" r="2.1"/><circle cx="106.4" cy="248.3" r="2.1"/><circle cx="102.2" cy="248.0" r="2.1"/><circle cx="98.3" cy="247.7" r="2.1"/><circle cx="96.0" cy="247.2" r="2.1"/><circle cx="93.6" cy="247.3" r="2.1"/><circle cx="88.8" cy="249.8" r="2.1"/><circle cx="88.0" cy="250.6" r="2.1"/><circle cx="85.6" cy="251.3" r="2.1"/><circle cx="84.8" cy="255.4" r="2.1"/><circle cx="84.4" cy="256.1" r="2.1"/><circle cx="82.4" cy="261.6" r="2.1"/><circle cx="80.4" cy="262.8" r="2.1"/><circle cx="80.4" cy="263.6" r="2.1"/><circle cx="76.7" cy="262.7" r="2.1"/><circle cx="71.9" cy="262.8" r="2.1"/><circle cx="70.5" cy="262.7" r="2.1"/><circle cx="68.7" cy="258.5" r="2.1"/><circle cx="68.3" cy="253.8" r="2.1"/><circle cx="68.4" cy="252.1" r="2.1"/><circle cx="62.7" cy="246.3" r="2.1"/><circle cx="63.0" cy="246.6" r="2.1"/><circle cx="63.1" cy="245.9" r="2.1"/><circle cx="63.1" cy="244.0" r="2.1"/><circle cx="63.8" cy="243.9" r="2.1"/><circle cx="68.6" cy="238.5" r="2.1"/><circle cx="68.9" cy="234.4" r="2.1"/><circle cx="69.1" cy="233.2" r="2.1"/><circle cx="69.4" cy="229.7" r="2.1"/><circle cx="71.1" cy="226.9" r="2.1"/><circle cx="72.6" cy="223.5" r="2.1"/><circle cx="74.9" cy="218.2" r="2.1"/><circle cx="75.5" cy="217.0" r="2.1"/></g><g fill="#fff"><circle cx="74.5" cy="227.9" r="1.0"/><circle cx="69.2" cy="232.2" r="1.0"/><circle cx="73.6" cy="223.5" r="1.0"/><circle cx="72.9" cy="261.6" r="1.0"/></g><path d="M59.00 179.95V300.55M101.55 179.95V300.55M144.10 179.95V300.55M186.65 179.95V300.55M229.20 179.95V300.55M52.00 183.10H269.40M52.00 215.00H269.40M52.00 246.90H269.40M52.00 278.80H269.40" stroke="#b0b0b0" stroke-width="1.0" fill="none"/><rect x="52.00" y="179.95" width="217.40" height="120.60" fill="none" stroke="#000" stroke-width="0.9"/><path d="M59.00 300.55v3.5M101.55 300.55v3.5M144.10 300.55v3.5M186.65 300.55v3.5M229.20 300.55v3.5M52.00 183.10h-3.5M52.00 215.00h-3.5M52.00 246.90h-3.5M52.00 278.80h-3.5" stroke="#000" stroke-width="0.9" fill="none"/><g font-family='"Liberation Serif", serif' font-size="12" fill="#000"><text x="59.00" y="316.15" text-anchor="middle">2.5</text><text x="101.55" y="316.15" text-anchor="middle">5.0</text><text x="144.10" y="316.15" text-anchor="middle">7.5</text><text x="186.65" y="316.15" text-anchor="middle">10.0</text><text x="229.20" y="316.15" text-anchor="middle">12.5</text><text x="45.40" y="187.00" text-anchor="end">1.0</text><text x="45.40" y="219.00" text-anchor="end">0.5</text><text x="45.40" y="251.00" text-anchor="end">0.0</text><text x="45.40" y="283.00" text-anchor="end">−0.5</text></g><text x="160.15" y="331.05" text-anchor="middle" textLength="151.90" lengthAdjust="spacingAndGlyphs" font-family='"Liberation Serif", serif' font-size="12" fill="#000">Water level, CPY006 (m MSL)</text><text transform="translate(18.10 240.25) rotate(-90)" x="0" y="0" text-anchor="middle" textLength="68.90" lengthAdjust="spacingAndGlyphs" font-family='"Liberation Serif", serif' font-size="12" fill="#000">Residual (g/l)</text><g fill="#000"><path d="M330.5 246.4 L332.0 244.6 L340.0 244.3 L350.0 243.6 L360.0 243.2 L370.0 242.8 L380.0 242.6 L390.0 242.5 L400.0 242.5 L410.0 241.8 L420.0 240.7 L427.0 240.7 L431.7 238.3 L436.3 239.5 L442.2 237.2 L446.8 236.6 L450.3 238.3 L453.9 233.7 L456.2 230.2 L459.7 231.3 L462.0 229.0 L466.7 226.7 L470.2 227.8 L473.7 226.1 L477.2 227.8 L480.7 227.3 L483.0 225.5 L485.3 225.0 L488.8 224.0 L491.2 225.0 L494.7 223.5 L497.0 224.5 L500.5 224.0 L502.8 227.0 L505.2 229.7 L507.5 234.3 L511.0 233.2 L512.2 237.8 L516.9 240.2 L520.4 241.3 L522.7 239.0 L525.0 242.5 L528.5 244.8 L530.9 246.6 L530.5 248.3 L528.9 250.5 L527.0 255.0 L525.0 259.0 L520.0 262.0 L515.0 263.5 L510.0 263.0 L504.5 262.0 L499.6 262.0 L496.3 260.3 L493.0 261.5 L488.2 259.5 L483.3 261.9 L480.2 262.7 L476.7 263.0 L473.2 262.7 L468.5 261.5 L463.9 262.1 L460.3 260.3 L455.7 256.8 L452.2 255.7 L448.7 258.0 L445.2 259.5 L442.8 255.7 L439.3 255.7 L435.8 257.4 L432.3 254.5 L430.0 253.3 L427.0 251.2 L420.0 251.2 L410.0 251.3 L400.0 250.8 L390.0 250.3 L380.0 249.8 L370.0 249.5 L360.0 249.3 L350.0 249.0 L340.0 248.5 L332.0 248.3Z"/><circle cx="351.1" cy="240.1" r="2.1"/><circle cx="367.4" cy="236.5" r="2.1"/><circle cx="368.8" cy="235.9" r="2.1"/><circle cx="380.2" cy="235.9" r="2.1"/><circle cx="364.2" cy="240.5" r="2.1"/><circle cx="372.2" cy="241.3" r="2.1"/><circle cx="397.6" cy="234.4" r="2.1"/><circle cx="397.6" cy="238.4" r="2.1"/><circle cx="351.8" cy="249.3" r="2.1"/><circle cx="361.3" cy="250.0" r="2.1"/><circle cx="391.8" cy="252.9" r="2.1"/><circle cx="396.2" cy="255.8" r="2.1"/><circle cx="400.5" cy="255.1" r="2.1"/><circle cx="387.5" cy="241.7" r="2.1"/><circle cx="442.4" cy="218.6" r="2.1"/><circle cx="473.3" cy="216.2" r="2.1"/><circle cx="468.9" cy="222.3" r="2.1"/><circle cx="468.2" cy="224.5" r="2.1"/><circle cx="424.4" cy="229.6" r="2.1"/><circle cx="454.3" cy="229.6" r="2.1"/><circle cx="462.3" cy="228.8" r="2.1"/><circle cx="474.7" cy="226.6" r="2.1"/><circle cx="480.0" cy="186.1" r="2.1"/><circle cx="487.4" cy="186.6" r="2.1"/><circle cx="499.1" cy="192.8" r="2.1"/><circle cx="508.8" cy="192.4" r="2.1"/><circle cx="509.1" cy="193.8" r="2.1"/><circle cx="495.7" cy="202.9" r="2.1"/><circle cx="500.5" cy="204.1" r="2.1"/><circle cx="507.4" cy="207.3" r="2.1"/><circle cx="485.5" cy="207.7" r="2.1"/><circle cx="482.9" cy="211.8" r="2.1"/><circle cx="502.6" cy="210.6" r="2.1"/><circle cx="473.4" cy="216.2" r="2.1"/><circle cx="478.7" cy="216.4" r="2.1"/><circle cx="480.4" cy="218.6" r="2.1"/><circle cx="528.1" cy="217.6" r="2.1"/><circle cx="469.0" cy="221.5" r="2.1"/><circle cx="468.0" cy="224.5" r="2.1"/><circle cx="489.9" cy="221.1" r="2.1"/><circle cx="495.0" cy="219.7" r="2.1"/><circle cx="500.5" cy="221.5" r="2.1"/><circle cx="506.4" cy="223.0" r="2.1"/><circle cx="516.6" cy="223.7" r="2.1"/><circle cx="475.3" cy="226.4" r="2.1"/><circle cx="513.2" cy="226.9" r="2.1"/><circle cx="519.8" cy="227.4" r="2.1"/><circle cx="524.1" cy="228.8" r="2.1"/><circle cx="462.2" cy="228.1" r="2.1"/><circle cx="483.3" cy="225.9" r="2.1"/><circle cx="484.8" cy="228.1" r="2.1"/><circle cx="492.1" cy="223.7" r="2.1"/><circle cx="495.0" cy="225.2" r="2.1"/><circle cx="497.9" cy="226.6" r="2.1"/><circle cx="501.5" cy="227.4" r="2.1"/><circle cx="503.7" cy="228.1" r="2.1"/><circle cx="424.4" cy="229.6" r="2.1"/><circle cx="435.8" cy="233.1" r="2.1"/><circle cx="467.9" cy="223.8" r="2.1"/><circle cx="475.4" cy="226.4" r="2.1"/><circle cx="454.4" cy="230.2" r="2.1"/><circle cx="480.7" cy="218.6" r="2.1"/><circle cx="490.0" cy="221.5" r="2.1"/><circle cx="495.3" cy="219.8" r="2.1"/><circle cx="500.5" cy="221.5" r="2.1"/><circle cx="506.1" cy="222.9" r="2.1"/><circle cx="516.3" cy="223.3" r="2.1"/><circle cx="513.4" cy="226.8" r="2.1"/><circle cx="519.8" cy="226.8" r="2.1"/><circle cx="522.1" cy="228.5" r="2.1"/><circle cx="523.9" cy="229.1" r="2.1"/><circle cx="512.2" cy="231.4" r="2.1"/><circle cx="522.7" cy="239.0" r="2.1"/><circle cx="527.9" cy="218.0" r="2.1"/><circle cx="526.2" cy="253.0" r="2.1"/><circle cx="438.4" cy="264.8" r="2.1"/><circle cx="450.1" cy="262.7" r="2.1"/><circle cx="475.5" cy="265.6" r="2.1"/><circle cx="482.5" cy="269.9" r="2.1"/><circle cx="487.8" cy="273.2" r="2.1"/><circle cx="488.9" cy="270.8" r="2.1"/><circle cx="482.4" cy="269.8" r="2.1"/><circle cx="489.8" cy="270.4" r="2.1"/><circle cx="487.8" cy="273.7" r="2.1"/><circle cx="517.5" cy="273.3" r="2.1"/><circle cx="516.2" cy="287.7" r="2.1"/><circle cx="480.8" cy="294.2" r="2.1"/><circle cx="527.3" cy="253.0" r="2.1"/><circle cx="527.3" cy="257.9" r="2.1"/><circle cx="514.2" cy="263.6" r="2.1"/><circle cx="380.5" cy="235.9" r="2.1"/><circle cx="397.4" cy="234.4" r="2.1"/><circle cx="398.4" cy="238.4" r="2.1"/><circle cx="403.3" cy="240.4" r="2.1"/><circle cx="410.3" cy="239.9" r="2.1"/><circle cx="418.2" cy="239.9" r="2.1"/><circle cx="424.6" cy="229.5" r="2.1"/><circle cx="386.9" cy="241.9" r="2.1"/><circle cx="392.4" cy="252.8" r="2.1"/><circle cx="396.4" cy="255.8" r="2.1"/><circle cx="401.8" cy="254.8" r="2.1"/><circle cx="411.7" cy="253.8" r="2.1"/><circle cx="415.7" cy="253.3" r="2.1"/><circle cx="507.5" cy="255.5" r="2.1"/><circle cx="512.7" cy="257.2" r="2.1"/><circle cx="516.2" cy="254.6" r="2.1"/><circle cx="521.5" cy="255.5" r="2.1"/><circle cx="525.0" cy="257.2" r="2.1"/><circle cx="526.7" cy="252.8" r="2.1"/><circle cx="518.0" cy="260.7" r="2.1"/><circle cx="511.0" cy="262.4" r="2.1"/><circle cx="504.0" cy="260.7" r="2.1"/><circle cx="508.0" cy="264.0" r="2.1"/><circle cx="513.0" cy="265.0" r="2.1"/><circle cx="520.0" cy="264.0" r="2.1"/><circle cx="525.0" cy="262.0" r="2.1"/><circle cx="505.0" cy="226.0" r="2.1"/><circle cx="509.0" cy="230.0" r="2.1"/><circle cx="513.0" cy="235.0" r="2.1"/><circle cx="517.0" cy="238.0" r="2.1"/><circle cx="521.0" cy="240.0" r="2.1"/><circle cx="343.5" cy="244.0" r="2.1"/><circle cx="345.5" cy="249.1" r="2.1"/><circle cx="347.6" cy="243.8" r="2.1"/><circle cx="349.6" cy="248.9" r="2.1"/><circle cx="350.7" cy="243.6" r="2.1"/><circle cx="354.9" cy="243.8" r="2.1"/><circle cx="360.2" cy="244.2" r="2.1"/><circle cx="362.2" cy="249.7" r="2.1"/><circle cx="363.4" cy="242.9" r="2.1"/><circle cx="365.4" cy="249.7" r="2.1"/><circle cx="367.0" cy="243.6" r="2.1"/><circle cx="369.0" cy="249.4" r="2.1"/><circle cx="370.7" cy="242.9" r="2.1"/><circle cx="372.7" cy="249.2" r="2.1"/><circle cx="375.4" cy="243.2" r="2.1"/><circle cx="377.4" cy="249.8" r="2.1"/><circle cx="380.6" cy="243.3" r="2.1"/><circle cx="382.6" cy="250.0" r="2.1"/><circle cx="384.7" cy="243.8" r="2.1"/><circle cx="386.7" cy="249.4" r="2.1"/><circle cx="388.8" cy="243.0" r="2.1"/><circle cx="390.8" cy="249.8" r="2.1"/><circle cx="392.8" cy="243.5" r="2.1"/><circle cx="394.8" cy="249.9" r="2.1"/><circle cx="396.3" cy="242.8" r="2.1"/><circle cx="401.3" cy="243.0" r="2.1"/><circle cx="403.3" cy="250.0" r="2.1"/><circle cx="407.4" cy="242.9" r="2.1"/><circle cx="409.4" cy="249.7" r="2.1"/><circle cx="411.0" cy="241.9" r="2.1"/><circle cx="414.9" cy="242.0" r="2.1"/><circle cx="418.7" cy="241.9" r="2.1"/><circle cx="427.0" cy="250.5" r="2.1"/><circle cx="431.0" cy="240.5" r="2.1"/><circle cx="433.0" cy="251.1" r="2.1"/><circle cx="436.3" cy="239.9" r="2.1"/><circle cx="438.3" cy="251.2" r="2.1"/><circle cx="442.2" cy="251.7" r="2.1"/><circle cx="444.4" cy="239.4" r="2.1"/><circle cx="332.3" cy="247.7" r="2.1"/><circle cx="334.2" cy="247.1" r="2.1"/><circle cx="336.9" cy="245.9" r="2.1"/><circle cx="342.1" cy="246.3" r="2.1"/><circle cx="344.3" cy="246.2" r="2.1"/><circle cx="347.9" cy="246.1" r="2.1"/><circle cx="350.4" cy="245.0" r="2.1"/><circle cx="355.8" cy="245.0" r="2.1"/><circle cx="357.5" cy="245.7" r="2.1"/><circle cx="361.7" cy="244.5" r="2.1"/><circle cx="364.9" cy="245.2" r="2.1"/><circle cx="367.2" cy="245.1" r="2.1"/><circle cx="370.4" cy="244.4" r="2.1"/><circle cx="373.6" cy="244.2" r="2.1"/><circle cx="379.3" cy="244.4" r="2.1"/><circle cx="382.7" cy="244.4" r="2.1"/><circle cx="385.0" cy="245.0" r="2.1"/><circle cx="388.5" cy="243.8" r="2.1"/><circle cx="391.6" cy="244.6" r="2.1"/><circle cx="393.8" cy="243.8" r="2.1"/><circle cx="399.0" cy="244.4" r="2.1"/><circle cx="400.6" cy="244.3" r="2.1"/><circle cx="404.1" cy="244.6" r="2.1"/><circle cx="408.1" cy="243.2" r="2.1"/><circle cx="412.3" cy="242.8" r="2.1"/><circle cx="414.2" cy="242.5" r="2.1"/><circle cx="418.8" cy="242.1" r="2.1"/><circle cx="421.5" cy="241.9" r="2.1"/><circle cx="424.8" cy="242.9" r="2.1"/><circle cx="429.8" cy="241.3" r="2.1"/><circle cx="433.0" cy="240.5" r="2.1"/><circle cx="438.2" cy="240.1" r="2.1"/><circle cx="440.9" cy="239.3" r="2.1"/><circle cx="445.7" cy="239.4" r="2.1"/><circle cx="446.4" cy="237.9" r="2.1"/><circle cx="453.9" cy="237.0" r="2.1"/><circle cx="455.8" cy="234.9" r="2.1"/><circle cx="458.3" cy="232.7" r="2.1"/><circle cx="461.8" cy="232.1" r="2.1"/><circle cx="466.2" cy="228.6" r="2.1"/><circle cx="467.1" cy="228.3" r="2.1"/><circle cx="472.8" cy="228.6" r="2.1"/><circle cx="473.7" cy="228.0" r="2.1"/><circle cx="477.5" cy="229.4" r="2.1"/><circle cx="483.8" cy="227.5" r="2.1"/><circle cx="484.1" cy="227.9" r="2.1"/><circle cx="486.7" cy="226.2" r="2.1"/><circle cx="488.4" cy="225.3" r="2.1"/><circle cx="492.3" cy="226.1" r="2.1"/><circle cx="495.7" cy="225.6" r="2.1"/><circle cx="498.0" cy="226.4" r="2.1"/><circle cx="500.9" cy="227.2" r="2.1"/><circle cx="503.0" cy="229.8" r="2.1"/><circle cx="504.4" cy="232.7" r="2.1"/><circle cx="510.8" cy="235.7" r="2.1"/><circle cx="509.1" cy="235.7" r="2.1"/><circle cx="512.8" cy="240.0" r="2.1"/><circle cx="519.0" cy="242.9" r="2.1"/><circle cx="523.0" cy="241.0" r="2.1"/><circle cx="522.6" cy="242.7" r="2.1"/><circle cx="524.3" cy="245.1" r="2.1"/><circle cx="528.4" cy="246.8" r="2.1"/><circle cx="529.6" cy="246.7" r="2.1"/><circle cx="528.5" cy="247.4" r="2.1"/><circle cx="527.3" cy="250.4" r="2.1"/><circle cx="524.5" cy="255.5" r="2.1"/><circle cx="522.3" cy="257.9" r="2.1"/><circle cx="518.5" cy="260.7" r="2.1"/><circle cx="513.4" cy="262.0" r="2.1"/><circle cx="509.3" cy="261.5" r="2.1"/><circle cx="501.7" cy="260.7" r="2.1"/><circle cx="498.5" cy="259.8" r="2.1"/><circle cx="493.9" cy="258.9" r="2.1"/><circle cx="492.6" cy="258.5" r="2.1"/><circle cx="484.7" cy="259.0" r="2.1"/><circle cx="482.7" cy="260.2" r="2.1"/><circle cx="479.3" cy="260.9" r="2.1"/><circle cx="474.3" cy="260.3" r="2.1"/><circle cx="473.5" cy="260.5" r="2.1"/><circle cx="464.8" cy="260.0" r="2.1"/><circle cx="464.7" cy="259.7" r="2.1"/><circle cx="460.3" cy="257.0" r="2.1"/><circle cx="454.0" cy="253.7" r="2.1"/><circle cx="448.9" cy="256.4" r="2.1"/><circle cx="445.9" cy="257.5" r="2.1"/><circle cx="446.4" cy="258.2" r="2.1"/><circle cx="441.2" cy="254.6" r="2.1"/><circle cx="437.0" cy="254.2" r="2.1"/><circle cx="435.7" cy="254.8" r="2.1"/><circle cx="433.0" cy="251.9" r="2.1"/><circle cx="430.7" cy="251.1" r="2.1"/><circle cx="425.2" cy="250.1" r="2.1"/><circle cx="420.7" cy="249.7" r="2.1"/><circle cx="417.3" cy="248.6" r="2.1"/><circle cx="414.2" cy="248.8" r="2.1"/><circle cx="412.3" cy="249.5" r="2.1"/><circle cx="409.2" cy="248.7" r="2.1"/><circle cx="406.7" cy="249.8" r="2.1"/><circle cx="400.9" cy="248.5" r="2.1"/><circle cx="398.2" cy="248.1" r="2.1"/><circle cx="395.4" cy="248.1" r="2.1"/><circle cx="392.3" cy="247.9" r="2.1"/><circle cx="389.9" cy="248.5" r="2.1"/><circle cx="385.2" cy="247.7" r="2.1"/><circle cx="382.3" cy="247.7" r="2.1"/><circle cx="377.5" cy="248.0" r="2.1"/><circle cx="376.2" cy="248.5" r="2.1"/><circle cx="371.1" cy="247.7" r="2.1"/><circle cx="369.0" cy="247.5" r="2.1"/><circle cx="366.4" cy="248.0" r="2.1"/><circle cx="362.7" cy="247.8" r="2.1"/><circle cx="357.8" cy="247.7" r="2.1"/><circle cx="356.5" cy="246.7" r="2.1"/><circle cx="351.9" cy="247.9" r="2.1"/><circle cx="348.3" cy="246.7" r="2.1"/><circle cx="345.1" cy="246.4" r="2.1"/><circle cx="342.3" cy="247.2" r="2.1"/><circle cx="337.7" cy="246.3" r="2.1"/><circle cx="333.8" cy="247.0" r="2.1"/><circle cx="333.3" cy="246.4" r="2.1"/></g><path d="M341.40 179.95V300.55M395.07 179.95V300.55M448.74 179.95V300.55M502.41 179.95V300.55M322.40 183.10H540.20M322.40 215.00H540.20M322.40 246.90H540.20M322.40 278.80H540.20" stroke="#b0b0b0" stroke-width="1.0" fill="none"/><rect x="322.40" y="179.95" width="217.80" height="120.60" fill="none" stroke="#000" stroke-width="0.9"/><path d="M341.40 300.55v3.5M395.07 300.55v3.5M448.74 300.55v3.5M502.41 300.55v3.5M322.40 183.10h-3.5M322.40 215.00h-3.5M322.40 246.90h-3.5M322.40 278.80h-3.5" stroke="#000" stroke-width="0.9" fill="none"/><g font-family='"Liberation Serif", serif' font-size="12" fill="#000"><text x="341.40" y="316.15" text-anchor="middle">−2</text><text x="395.07" y="316.15" text-anchor="middle">−1</text><text x="448.74" y="316.15" text-anchor="middle">0</text><text x="502.41" y="316.15" text-anchor="middle">1</text><text x="315.80" y="187.00" text-anchor="end">1.0</text><text x="315.80" y="219.00" text-anchor="end">0.5</text><text x="315.80" y="251.00" text-anchor="end">0.0</text><text x="315.80" y="283.00" text-anchor="end">−0.5</text></g><text x="431.60" y="331.05" text-anchor="middle" textLength="181.00" lengthAdjust="spacingAndGlyphs" font-family='"Liberation Serif", serif' font-size="12" fill="#000">Forecasted water level, BB (m MSL)</text><text transform="translate(288.50 240.25) rotate(-90)" x="0" y="0" text-anchor="middle" textLength="68.90" lengthAdjust="spacingAndGlyphs" font-family='"Liberation Serif", serif' font-size="12" fill="#000">Residual (g/l)</text></svg></body></html>
